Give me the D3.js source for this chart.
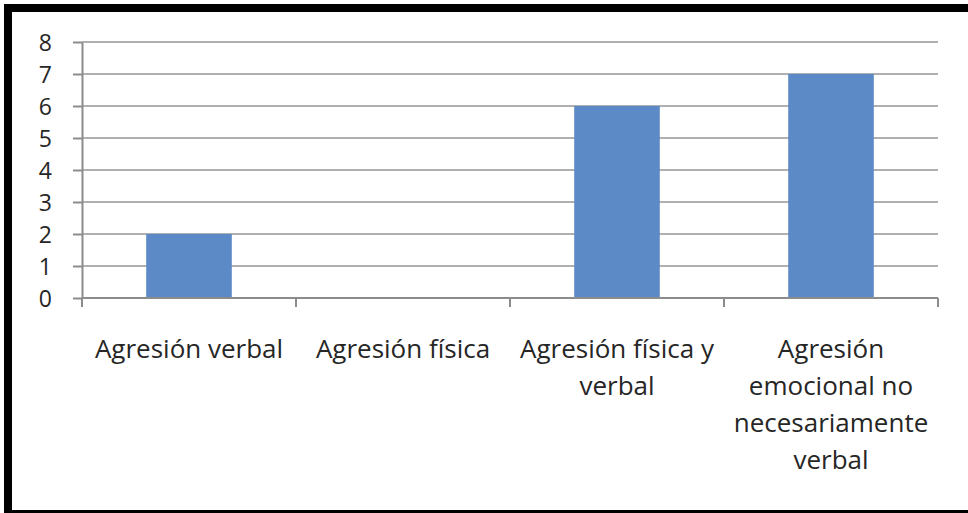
<!DOCTYPE html>
<html lang="es">
  <head>
    <meta charset="UTF-8" />
    <title>Agresión</title>
    <style>
      body { margin: 0; background: #fff; }
      text {
        font-family: "Open Sans", sans-serif;
        fill: #262626;
      }
      .yaxis text { font-size: 23px; }
      .xaxis text { font-size: 26px; }
      .grid line { stroke: #b0b0b0; stroke-width: 2px; }
      .yaxis path, .yaxis line, .xaxis path, .xaxis line { stroke: #8c8c8c; stroke-width: 2px; }
      .bar { fill: #5b8ac6; }
    </style>
  </head>
  <body>
    <script src="https://cdn.jsdelivr.net/npm/d3@7/dist/d3.min.js"></script>
    <script>
      // categories and counts
      var categories = ["Agresión verbal", "Agresión física", "Agresión física y verbal", "Agresión emocional no necesariamente verbal"];
      var values = [2, 0, 6, 7];
      // wrapped tick labels as shown under each bar
      var tickLines = [
        ["Agresión verbal"],
        ["Agresión física"],
        ["Agresión física y", "verbal"],
        ["Agresión", "emocional no", "necesariamente", "verbal"]
      ];
      var yTicks = [0, 1, 2, 3, 4, 5, 6, 7, 8];

      var w = 968, h = 513;
      var plotLeft = 82, plotRight = 938, plotTop = 42, plotBottom = 298;

      var svg = d3.select("body").append("svg")
        .attr("width", w)
        .attr("height", h);

      // frame
      svg.append("rect")
        .attr("x", 8).attr("y", 8)
        .attr("width", 1000).attr("height", 506)
        .attr("fill", "none")
        .attr("stroke", "#000")
        .attr("stroke-width", 8);

      var xScale = d3.scaleBand()
        .domain(categories)
        .range([plotLeft, plotRight])
        .paddingInner(0.6)
        .paddingOuter(0.3);

      var yScale = d3.scaleLinear()
        .domain([0, 8])
        .range([plotBottom, plotTop]);

      // gridlines
      svg.append("g")
        .attr("class", "grid")
        .selectAll("line")
        .data(yTicks.filter(function(d) { return d > 0; }))
        .enter()
        .append("line")
        .attr("x1", plotLeft)
        .attr("x2", plotRight)
        .attr("y1", function(d) { return yScale(d); })
        .attr("y2", function(d) { return yScale(d); });

      // bars
      svg.selectAll(".bar")
        .data(values)
        .enter()
        .append("rect")
        .attr("class", "bar")
        .attr("x", function(d, i) { return xScale(categories[i]); })
        .attr("y", function(d) { return yScale(d); })
        .attr("width", xScale.bandwidth())
        .attr("height", function(d) { return yScale(0) - yScale(d); });

      // y axis
      var yAxis = d3.axisLeft(yScale)
        .tickValues(yTicks)
        .tickSize(9)
        .tickPadding(21)
        .tickSizeOuter(0);

      svg.append("g")
        .attr("class", "yaxis")
        .attr("transform", "translate(" + plotLeft + ",0)")
        .call(yAxis)
        .selectAll("text")
        .attr("dy", "0.36em");

      // x axis: ticks sit on category boundaries
      var bounds = d3.range(categories.length + 1);
      var xg = svg.append("g").attr("class", "xaxis");

      xg.append("line")
        .attr("x1", plotLeft).attr("x2", plotRight)
        .attr("y1", plotBottom).attr("y2", plotBottom);

      xg.selectAll(".tick")
        .data(bounds)
        .enter()
        .append("line")
        .attr("x1", function(d) { return plotLeft + d * (plotRight - plotLeft) / categories.length; })
        .attr("x2", function(d) { return plotLeft + d * (plotRight - plotLeft) / categories.length; })
        .attr("y1", plotBottom)
        .attr("y2", plotBottom + 9);

      var labels = xg.selectAll(".lbl")
        .data(tickLines)
        .enter()
        .append("text")
        .attr("class", "lbl")
        .attr("text-anchor", "middle")
        .attr("x", function(d, i) { return xScale(categories[i]) + xScale.bandwidth() / 2; })
        .attr("y", 358);

      labels.selectAll("tspan")
        .data(function(d) { return d; })
        .enter()
        .append("tspan")
        .attr("x", function() { return d3.select(this.parentNode).attr("x"); })
        .attr("dy", function(d, i) { return i === 0 ? 0 : 37; })
        .text(function(d) { return d; });
    </script>
  </body>
</html>
